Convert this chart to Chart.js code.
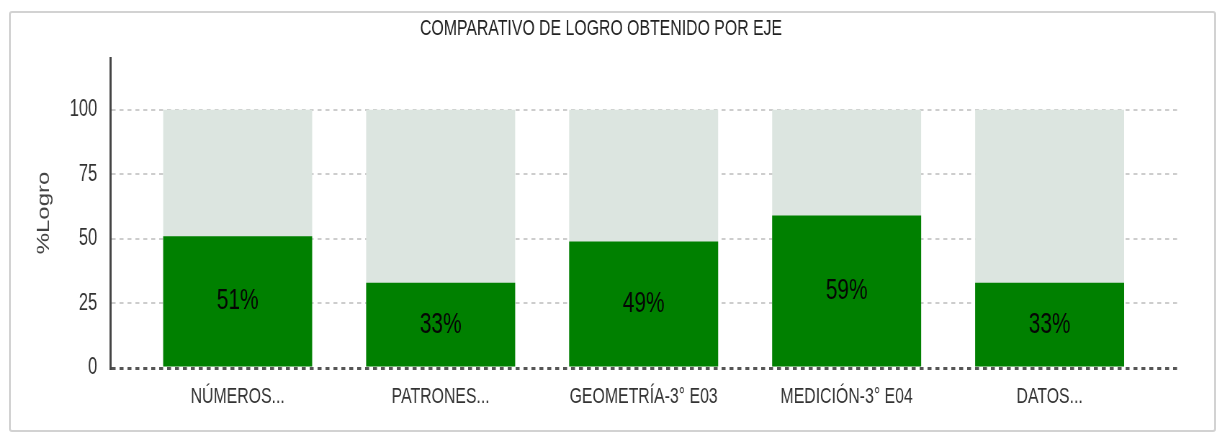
<!DOCTYPE html>
<html><head><meta charset="utf-8">
<script src="https://cdn.jsdelivr.net/npm/chart.js@4.4.1/dist/chart.umd.min.js"></script>
<style>
html,body{margin:0;padding:0;background:#fff;width:1217px;height:435px;overflow:hidden;}
#frame{position:absolute;left:9px;top:11px;width:1203px;height:417px;border:2px solid #d2d2d2;border-radius:3px;}
#wrap{position:absolute;left:0;top:0;width:1690px;height:435px;transform:scaleX(0.72012);transform-origin:0 0;}
</style></head><body>
<div id="frame"></div>
<div id="wrap"><canvas id="c" width="1690" height="435"></canvas></div>
<script>
const categories = ['NÚMEROS...', 'PATRONES...', 'GEOMETRÍA-3° E03', 'MEDICIÓN-3° E04', 'DATOS...'];
const logro = [51, 33, 49, 59, 33];
const total = [100, 100, 100, 100, 100];
const yTicks = [0, 25, 50, 75, 100];
const titleText = 'COMPARATIVO DE LOGRO OBTENIDO POR EJE';
const yTitle = '%Logro';

const FAMILY = "'Liberation Sans', Arial, sans-serif";

const valueLabels = {
  id: 'valueLabels',
  afterDatasetsDraw(chart) {
    const meta = chart.getDatasetMeta(0);
    const ctx = chart.ctx;
    ctx.save();
    ctx.font = "29px " + FAMILY;
    ctx.fillStyle = '#050505';
    ctx.textAlign = 'center';
    ctx.textBaseline = 'middle';
    meta.data.forEach((el, i) => {
      ctx.fillText(logro[i] + '%', el.x, (el.y + el.base) / 2);
    });
    ctx.restore();
  }
};

new Chart(document.getElementById('c'), {
  type: 'bar',
  data: {
    datasets: [
      {
        label: 'Logro',
        data: logro.map((v, i) => ({ x: i, y: v })),
        backgroundColor: '#008000',
        grouped: false,
        order: 0,
        barPercentage: 0.734,
        categoryPercentage: 1
      },
      {
        label: 'Total',
        data: total.map((v, i) => ({ x: i, y: v })),
        backgroundColor: '#dce5e0',
        grouped: false,
        order: 1,
        barPercentage: 0.734,
        categoryPercentage: 1
      }
    ]
  },
  options: {
    responsive: false,
    animation: false,
    devicePixelRatio: 1,
    layout: { padding: { left: 33.2, right: 54, top: 0, bottom: 0 } },
    plugins: {
      legend: { display: false },
      tooltip: { enabled: false },
      title: {
        display: true,
        text: titleText,
        color: '#222',
        font: { family: FAMILY, size: 22, weight: 'normal' },
        padding: { top: 16, bottom: 15.6 }
      }
    },
    scales: {
      x: {
        type: 'linear',
        min: -0.628,
        max: 4.633,
        offset: false,
        bounds: 'data',
        grace: 0,
        afterBuildTicks: s => { s.ticks = categories.map((c, i) => ({ value: i })); },
        afterFit: s => { s.height = 67; },
        grid: { display: false, drawTicks: false, offset: false },
        border: { display: false },
        ticks: {
          autoSkip: false,
          maxRotation: 0,
          padding: 16,
          color: '#333',
          font: { family: FAMILY, size: 22 },
          callback: v => categories[v] ?? ''
        }
      },
      y: {
        min: 0,
        max: 120,
        afterBuildTicks: s => { s.ticks = yTicks.map(v => ({ value: v })); },
        afterFit: s => { s.width = 119.8; },
        grid: {
          drawTicks: false,
          color: c => (c.tick && c.tick.value === 0) ? '#555' : '#cdcdcd',
          lineWidth: c => (c.tick && c.tick.value === 0) ? 3 : 2
        },
        border: { display: true, color: '#444', width: 3, dash: [5.5, 5.5] },
        ticks: {
          padding: 18,
          color: '#333',
          font: { family: FAMILY, size: 23 }
        },
        title: {
          display: true,
          text: yTitle,
          color: '#444',
          font: { family: FAMILY, size: 24 },
          padding: { top: 13.8, bottom: 0 }
        }
      }
    }
  },
  plugins: [valueLabels]
});
</script>
</body></html>
